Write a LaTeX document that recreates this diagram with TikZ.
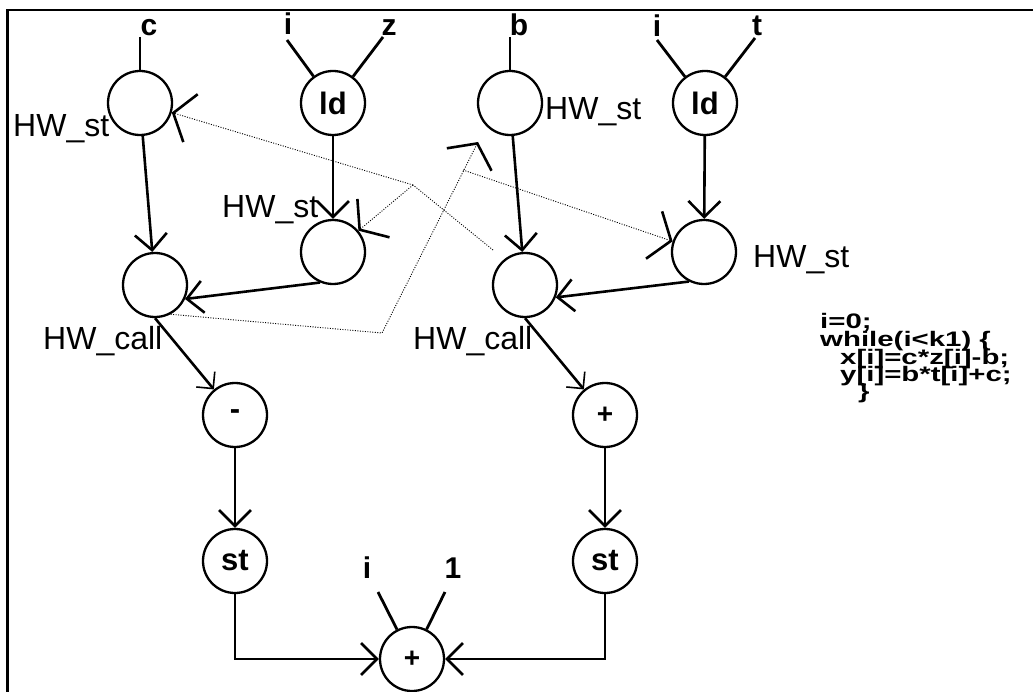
\documentclass[tikz,border=0pt]{standalone}
\usepackage{fontspec}
\usepackage{graphicx}
\setmainfont{Liberation Sans}
\usetikzlibrary{arrows.meta}
\begin{document}
\begin{tikzpicture}[x=1pt,y=-1pt,
  vertex/.style={circle,draw,line width=2.3pt,minimum size=64pt,inner sep=0pt,font=\fontsize{31}{33}\selectfont\bfseries},
  opnode/.style={vertex,font=\fontsize{28}{30}\selectfont\bfseries},
  lbl/.style={font=\fontsize{32}{36}\selectfont,inner sep=0pt,anchor=base west},
  var/.style={font=\fontsize{30}{32}\selectfont\bfseries,inner sep=0pt,anchor=base},
  codeline/.style={font=\fontsize{21}{22}\selectfont\bfseries,inner sep=0pt,anchor=base west},
  flow/.style={line width=2.6pt,-{Straight Barb[length=16pt,width=32pt]}},
  diag/.style={line width=2.6pt,-{Straight Barb[length=12pt,width=24pt,line width=1.6pt]}},
  dep/.style={line width=0.9pt,dash pattern=on 1pt off 1.5pt,-{Straight Barb[length=18pt,width=50pt,line width=2.6pt]}},
  deplink/.style={line width=0.9pt,dash pattern=on 1pt off 1.5pt},
  feed/.style={line width=2.8pt}
]
\useasboundingbox (0,0) rectangle (1033,692);
% frame
\draw[line width=2.6pt] (7.5,692) -- (7.5,10) -- (1033,10);

% nodes
\node[vertex] (n1) at (140,103) {};
\node[vertex] (ld1) at (333,103) {ld};
\node[vertex] (bst) at (510,103) {};
\node[vertex] (ld2) at (705,103) {ld};
\node[vertex] (stm) at (333,252) {};
\node[vertex] (str) at (704,252) {};
\node[vertex] (hwcl) at (155,285) {};
\node[vertex] (hwcr) at (525,285) {};
\node[vertex] (minus) at (235,415) {-};
\node[opnode] (plus) at (605,415) {+};
\node[vertex] (stl) at (235,561) {st};
\node[vertex] (strr) at (605,561) {st};
\node[opnode] (pb) at (412,659) {+};

% labels
\node[lbl] (t1) at (13,137) {HW\_st};
\node[lbl] (t2) at (545,120) {HW\_st};
\node[lbl] (t3) at (222,218) {HW\_st};
\node[lbl] (t4) at (753,268) {HW\_st};
\node[lbl] (t5) at (43,350) {HW\_call};
\node[lbl] (t6) at (413,350) {HW\_call};

% input variables
\node[var] (vc) at (149,36) {c};
\node[var] (vi1) at (288,35) {i};
\node[var] (vz) at (389,36) {z};
\node[var] (vb) at (519,36) {b};
\node[var] (vi2) at (657,37) {i};
\node[var] (vt) at (757,36) {t};
\node[var] (vi3) at (367,578) {i};
\node[var] (v1) at (453,578) {1};

% code
\node[codeline] (code1) at (820,329) {\scalebox{1.4}[1]{i=0;}};
\node[codeline] (code2) at (820,346.5) {\scalebox{1.4}[1]{while(i<k1) \{}};
\node[codeline] (code3) at (840,364) {\scalebox{1.4}[1]{x[i]=c*z[i]-b;}};
\node[codeline] (code4) at (840,381.5) {\scalebox{1.4}[1]{y[i]=b*t[i]+c;}};
\node[codeline] (code5) at (858,398) {\scalebox{1.4}[1]{\}}};

% input lines
\coordinate (ec) at (140,37);
\coordinate (ei1) at (287,40);
\coordinate (ez) at (383,37);
\coordinate (eb) at (510,37);
\coordinate (ei2) at (657,40);
\coordinate (et) at (755,38);
\coordinate (ei3) at (378,592);
\coordinate (e1) at (445,592);
\draw[feed] (ec) -- (n1);
\draw[feed] (ei1) -- (ld1);
\draw[feed] (ez) -- (ld1);
\draw[feed] (eb) -- (bst);
\draw[feed] (ei2) -- (ld2);
\draw[feed] (et) -- (ld2);
\draw[feed] (ei3) -- (pb);
\draw[feed] (e1) -- (pb);

% data flow
\draw[flow] (n1) -- (hwcl);
\draw[flow] (ld1) -- (stm);
\draw[flow] (stm.-113) -- (hwcl.-25);
\draw[flow] (bst) -- (hwcr);
\draw[flow] (ld2) -- (str);
\draw[flow] (str.-117) -- (hwcr.-22);
\draw[diag] (hwcl.south) -- (minus);
\draw[diag] (hwcr.south) -- (plus);
\draw[flow] (minus) -- (stl);
\draw[flow] (plus) -- (strr);
\draw[flow] (stl) |- (pb);
\draw[flow] (strr) |- (pb);

% dependencies
\coordinate (k1) at (413,185);
\coordinate (s1) at (493,250);
\coordinate (k2) at (382,333);
\coordinate (k3) at (478,142);
\coordinate (k4) at (463,170);
\draw[deplink] (s1) -- (k1);
\draw[dep] (k1) -- (n1);
\draw[dep] (k1) -- (stm);
\draw[dep] (hwcl.-62) -- (k2) -- (k3);
\draw[dep] (k4) -- (str);
\end{tikzpicture}
\end{document}
